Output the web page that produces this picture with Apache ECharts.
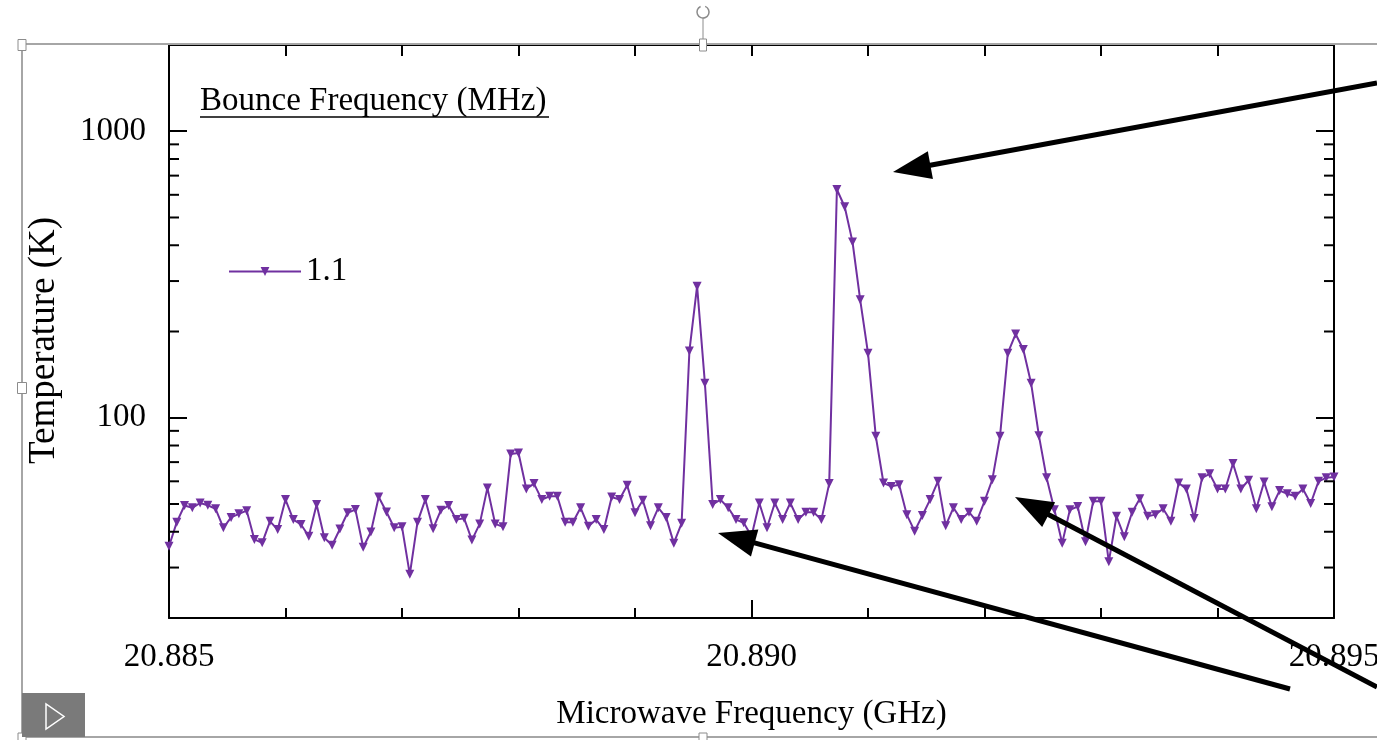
<!DOCTYPE html>
<html><head><meta charset="utf-8">
<script src="https://cdn.jsdelivr.net/npm/echarts@6/dist/echarts.min.js"></script>
<style>html,body{margin:0;padding:0;background:#fff;overflow:hidden}#c{width:1377px;height:740px}</style>
</head><body><div id="c"></div>
<script>
// ---------------- data ----------------
const seriesName = '1.1';
const freqGHz = [
20.885000,20.885067,20.885133,20.885200,20.885267,20.885333,20.885400,20.885467,20.885533,20.885600,20.885667,20.885733,20.885800,20.885867,20.885933,
20.886000,20.886067,20.886133,20.886200,20.886267,20.886333,20.886400,20.886467,20.886533,20.886600,20.886667,20.886733,20.886800,20.886867,20.886933,
20.887000,20.887067,20.887133,20.887200,20.887267,20.887333,20.887400,20.887467,20.887533,20.887600,20.887667,20.887733,20.887800,20.887867,20.887933,
20.888000,20.888067,20.888133,20.888200,20.888267,20.888333,20.888400,20.888467,20.888533,20.888600,20.888667,20.888733,20.888800,20.888867,20.888933,
20.889000,20.889067,20.889133,20.889200,20.889267,20.889333,20.889400,20.889467,20.889533,20.889600,20.889667,20.889733,20.889800,20.889867,20.889933,
20.890000,20.890067,20.890133,20.890200,20.890267,20.890333,20.890400,20.890467,20.890533,20.890600,20.890667,20.890733,20.890800,20.890867,20.890933,
20.891000,20.891067,20.891133,20.891200,20.891267,20.891333,20.891400,20.891467,20.891533,20.891600,20.891667,20.891733,20.891800,20.891867,20.891933,
20.892000,20.892067,20.892133,20.892200,20.892267,20.892333,20.892400,20.892467,20.892533,20.892600,20.892667,20.892733,20.892800,20.892867,20.892933,
20.893000,20.893067,20.893133,20.893200,20.893267,20.893333,20.893400,20.893467,20.893533,20.893600,20.893667,20.893733,20.893800,20.893867,20.893933,
20.894000,20.894067,20.894133,20.894200,20.894267,20.894333,20.894400,20.894467,20.894533,20.894600,20.894667,20.894733,20.894800,20.894867,20.894933,
20.895000
];
const tempK = [
35.6,43.2,49.4,48.5,50.4,49.5,48.1,41.3,44.9,46.2,
47.4,37.6,36.6,43.5,40.7,51.8,44.1,42.4,38.6,49.8,
38.1,35.9,40.9,46.6,47.8,35.3,39.9,52.9,46.9,41.3,
41.6,28.4,43.2,51.8,41.0,47.5,49.4,44.1,44.6,37.4,
42.6,56.9,42.6,41.6,74.7,75.3,56.4,58.9,51.8,53.2,
53.2,43.2,43.2,48.5,41.8,44.1,40.7,52.9,51.8,58.1,
46.6,51.5,42.0,48.5,44.9,36.5,42.8,171,288,132,
49.8,51.8,48.5,44.1,43.0,38.6,50.4,41.3,50.4,44.1,
50.4,44.1,46.8,46.8,44.1,58.9,626,545,411,258,
168,86.1,59.2,57.6,58.4,45.9,40.2,45.6,51.8,60.0,
42.0,48.5,44.1,46.8,43.5,51.1,60.8,86.1,168,196,
173,132,86.6,61.7,47.7,36.5,47.7,49.0,36.9,51.1,
51.1,31.4,45.3,38.4,46.8,52.2,45.3,45.9,48.1,43.5,
59.2,56.4,44.5,61.7,63.7,56.4,56.4,69.2,56.4,60.5,
48.1,59.7,48.9,55.7,54.3,53.2,56.4,50.2,60.0,61.7,
62.1
];
const xRange = [20.885, 20.895];
const yRange = [20, 2000];
const yLabelValues = [100, 1000];
const yMinorTicks = [30,40,50,60,70,80,90,200,300,400,500,600,700,800,900];
const xAxisTitle = 'Microwave Frequency (GHz)';
const yAxisTitle = 'Temperature (K)';
const boxTitle = 'Bounce Frequency (MHz)';

// ---------------- chart ----------------
const FONT = "'Liberation Serif','Times New Roman',serif";
const FS = 33;
const PURPLE = '#7030A0';
const chart = echarts.init(document.getElementById('c'), null, {renderer:'canvas'});
const pts = freqGHz.map((f,i)=>[f, tempK[i]]);

function arrow(x1,y1,x2,y2){
  const dx=x2-x1, dy=y2-y1, L=Math.hypot(dx,dy), ux=dx/L, uy=dy/L, nx=-uy, ny=ux;
  const hl=38, hw=14, bx=x2-ux*hl, by=y2-uy*hl;
  return [
    {type:'line', z:200, shape:{x1:x1,y1:y1,x2:bx+ux*3,y2:by+uy*3}, style:{stroke:'#000', lineWidth:5}},
    {type:'polygon', z:200, shape:{points:[[x2,y2],[bx+nx*hw,by+ny*hw],[bx-nx*hw,by-ny*hw]]}, style:{fill:'#000'}}
  ];
}
function handle(cx,cy,w,h){
  return {type:'rect', z:150, shape:{x:cx-w/2,y:cy-h/2,width:w,height:h}, style:{fill:'#fff', stroke:'#8c8c8c', lineWidth:1}};
}
const GRAY = '#a6a6a6';
const graphics = [
  {type:'line', z:100, shape:{x1:22,y1:44,x2:1377,y2:44}, style:{stroke:GRAY,lineWidth:2}},
  {type:'line', z:100, shape:{x1:22,y1:44,x2:22,y2:737}, style:{stroke:GRAY,lineWidth:2}},
  {type:'line', z:100, shape:{x1:22,y1:737,x2:1377,y2:737}, style:{stroke:GRAY,lineWidth:2}},
  {type:'line', z:100, shape:{x1:703,y1:18,x2:703,y2:44}, style:{stroke:'#8c8c8c',lineWidth:1}},
  {type:'arc', z:100, shape:{cx:703,cy:12,r:6,startAngle:-1.2,endAngle:4.3}, style:{fill:'none',stroke:'#8c8c8c',lineWidth:1.5}},
  handle(22,45,8,11), handle(703,45,7,12), handle(22,388,9,11), handle(22,737,8,8), handle(703,737,8,8),
  {type:'rect', z:150, shape:{x:22,y:693,width:63,height:44}, style:{fill:'#7a7a7a'}},
  {type:'polygon', z:151, shape:{points:[[46,704],[46,729],[64,716.5]]}, style:{fill:'none',stroke:'#fff',lineWidth:1.5}},
  {type:'text', z:120, left:200, top:85, style:{text:boxTitle, font:FS+'px '+FONT, fill:'#000'}},
  {type:'line', z:120, shape:{x1:200,y1:117,x2:549,y2:117}, style:{stroke:'#000',lineWidth:1.5}},
  ...arrow(1377,83,893,172),
  ...arrow(1290,689,718,533),
  ...arrow(1377,687,1015,497)
];

const axisLineStyle = {color:'#000', width:2};
const option = {
  animation:false,
  grid:{left:169, right:43, top:45, bottom:122, containLabel:false, outerBoundsMode:'none'},
  legend:{
    data:[seriesName], left:223, top:250, itemWidth:72, itemHeight:11, itemGap:5,
    textStyle:{fontFamily:FONT, fontSize:FS, color:'#000'}, selectedMode:false
  },
  xAxis:[
    {type:'value', position:'bottom', min:xRange[0], max:xRange[1], interval:0.005,
     axisLine:{show:true, onZero:false, lineStyle:axisLineStyle},
     axisTick:{show:true, inside:true, length:18, lineStyle:{color:'#000', width:2}},
     minorTick:{show:true, splitNumber:5, length:10, lineStyle:{color:'#000', width:2}},
     splitLine:{show:false}, minorSplitLine:{show:false},
     axisLabel:{show:true, margin:23, fontFamily:FONT, fontSize:FS, color:'#000',
       formatter:v=>Number(v).toFixed(3)},
     name:xAxisTitle, nameLocation:'middle', nameGap:80,
     nameTextStyle:{fontFamily:FONT, fontSize:FS, color:'#000'}},
    {type:'value', position:'top', min:xRange[0], max:xRange[1], interval:0.001,
     axisLine:{show:true, onZero:false, lineStyle:axisLineStyle},
     axisTick:{show:true, inside:true, length:11, lineStyle:{color:'#000', width:2}},
     splitLine:{show:false}, axisLabel:{show:false}}
  ],
  yAxis:[
    {type:'log', logBase:10, position:'left', min:yRange[0], max:yRange[1],
     axisLine:{show:true, onZero:false, lineStyle:axisLineStyle},
     axisTick:{show:true, inside:true, length:18, lineStyle:{color:'#000', width:2}},
     splitLine:{show:false},
     axisLabel:{show:true, margin:23, fontFamily:FONT, fontSize:FS, color:'#000',
       formatter:v=>{const r=Math.round(v); return yLabelValues.indexOf(r)>=0 ? String(r) : '';}},
     name:yAxisTitle, nameLocation:'middle', nameGap:106, nameRotate:90,
     nameTextStyle:{fontFamily:FONT, fontSize:37, color:'#000', padding:[0,18,0,0]}},
    {type:'log', logBase:10, position:'right', min:yRange[0], max:yRange[1],
     axisLine:{show:true, onZero:false, lineStyle:axisLineStyle},
     axisTick:{show:true, inside:true, length:18, lineStyle:{color:'#000', width:2}},
     splitLine:{show:false}, axisLabel:{show:false}}
  ],
  series:[
    {name:seriesName, type:'line', xAxisIndex:0, yAxisIndex:0, data:pts,
     symbol:'triangle', symbolRotate:180, symbolSize:9, showSymbol:true,
     lineStyle:{color:PURPLE, width:2}, itemStyle:{color:PURPLE}, z:10, clip:true},
    {name:'minorTicks', type:'custom', xAxisIndex:0, yAxisIndex:0, silent:true, clip:false, z:20,
     data:yMinorTicks.map(v=>[xRange[0], v]),
     renderItem:(params, api)=>{
       const v = api.value(1);
       const pL = api.coord([xRange[0], v]);
       const pR = api.coord([xRange[1], v]);
       return {type:'group', children:[
         {type:'line', shape:{x1:pL[0], y1:pL[1], x2:pL[0]+10, y2:pL[1]}, style:{stroke:'#000', lineWidth:2}},
         {type:'line', shape:{x1:pR[0], y1:pR[1], x2:pR[0]-10, y2:pR[1]}, style:{stroke:'#000', lineWidth:2}}
       ]};
     }}
  ],
  graphic:graphics
};
chart.setOption(option);
</script></body></html>
